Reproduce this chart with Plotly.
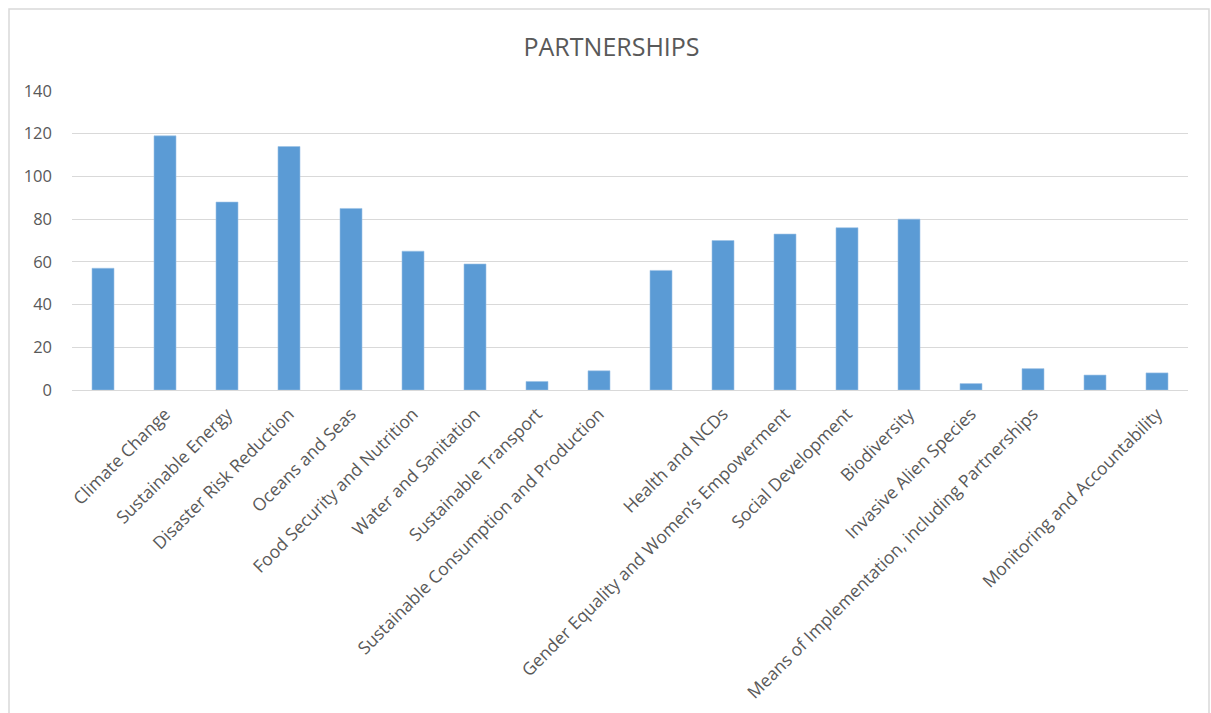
import plotly.graph_objects as go

# Category labels as they appear under each bar slot (Excel chart shows a blank under some bars)
categories = [
    "",
    "Climate Change",
    "Sustainable Energy",
    "Disaster Risk Reduction",
    "Oceans and Seas",
    "Food Security and Nutrition",
    "Water and Sanitation",
    "Sustainable Transport",
    "Sustainable Consumption and Production",
    "",
    "Health and NCDs",
    "Gender Equality and Women\u2019s Empowerment",
    "Social Development",
    "Biodiversity",
    "Invasive Alien Species",
    "Means of Implementation, including Partnerships",
    "",
    "Monitoring and Accountability",
]
values = [57, 119, 88, 114, 85, 65, 59, 4, 9, 56, 70, 73, 76, 80, 3, 10, 7, 8]
y_ticks = [0, 20, 40, 60, 80, 100, 120, 140]

positions = list(range(len(values)))

W, H = 1211, 713
L, R, T, B = 72, 23, 91, 323
pw = W - L - R
ph = H - T - B

def px_x(p):
    return (p - L) / pw

def px_y(p):
    return (H - B - p) / ph

fig = go.Figure(
    go.Bar(
        x=positions,
        y=values,
        marker=dict(color="#5B9BD5", line=dict(color="#9DC3E6", width=0.6)),
        hoverinfo="x+y",
    )
)

fig.update_layout(
    width=W,
    height=H,
    margin=dict(l=L, r=R, t=T, b=B, autoexpand=False),
    paper_bgcolor="white",
    plot_bgcolor="white",
    bargap=0.645,
    showlegend=False,
    font=dict(family="Open Sans", color="#595959", size=16),
    title=dict(
        text="PARTNERSHIPS",
        font=dict(family="Open Sans", size=25, color="#595959"),
        x=0.505,
        xref="container",
        xanchor="center",
        y=1 - 47 / H,
        yref="container",
        yanchor="middle",
    ),
    shapes=[
        dict(
            type="rect",
            xref="paper",
            yref="paper",
            x0=px_x(9),
            x1=px_x(1209),
            y0=px_y(730),
            y1=px_y(9),
            line=dict(color="#D9D9D9", width=1.5),
            fillcolor="rgba(0,0,0,0)",
            layer="below",
        )
    ],
)

fig.update_xaxes(
    tickmode="array",
    tickvals=positions,
    ticktext=categories,
    tickangle=-45,
    range=[-0.5, len(values) - 0.5],
    showgrid=False,
    showline=True,
    linecolor="#D9D9D9",
    linewidth=1,
    ticks="",
    ticklabelstandoff=6,
    tickfont=dict(family="Open Sans", size=17.5, color="#595959"),
    zeroline=False,
)

fig.update_yaxes(
    range=[0, 140],
    tickmode="array",
    tickvals=y_ticks,
    showgrid=True,
    gridcolor="#D9D9D9",
    gridwidth=1,
    zeroline=False,
    showline=False,
    ticks="",
    ticklabelstandoff=19,
    tickfont=dict(family="Open Sans", size=16.5, color="#595959"),
)

fig.write_html("out.html")
